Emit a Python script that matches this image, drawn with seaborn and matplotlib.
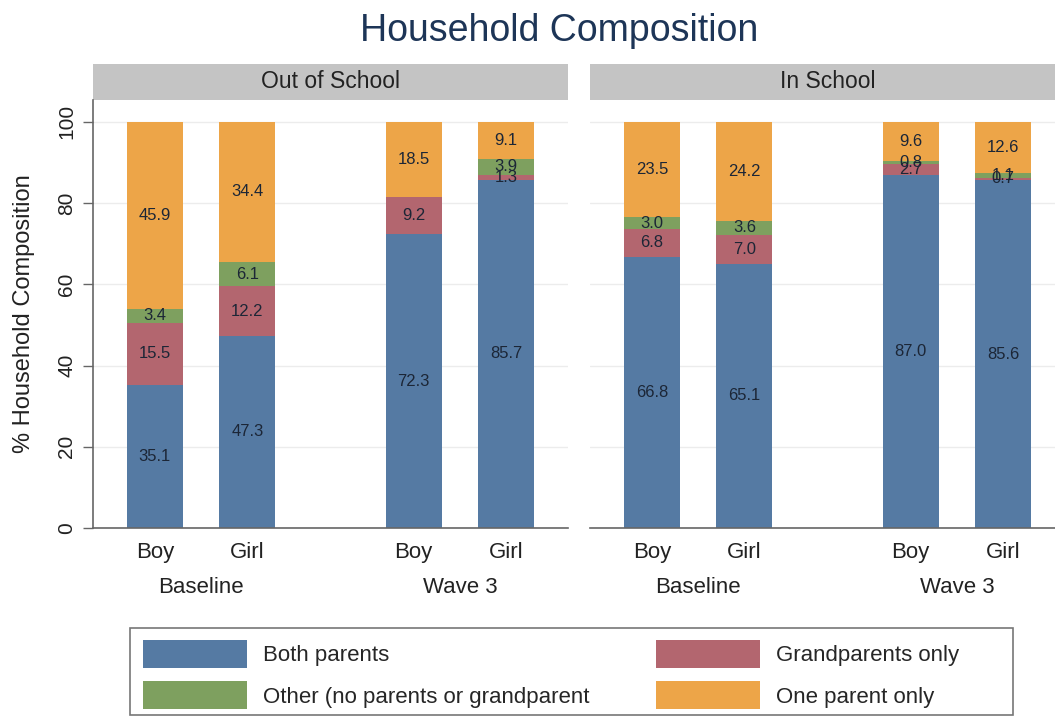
import numpy as np
import pandas as pd
import matplotlib.pyplot as plt
import matplotlib.patches as mpatches
import seaborn as sns

panels = ["Out of School", "In School"]
waves = ["Baseline", "Wave 3"]
sexes = ["Boy", "Girl"]
categories = ["Both parents", "Grandparents only",
              "Other (no parents or grandparent", "One parent only"]

# bars in each panel: Baseline Boy, Baseline Girl, Wave 3 Boy, Wave 3 Girl
both_out = [35.1, 47.3, 72.3, 85.7]
grand_out = [15.5, 12.2, 9.2, 1.3]
other_out = [3.4, 6.1, 0.0, 3.9]
one_out = [45.9, 34.4, 18.5, 9.1]

both_in = [66.8, 65.1, 87.0, 85.6]
grand_in = [6.8, 7.0, 2.7, 0.7]
other_in = [3.0, 3.6, 0.8, 1.1]
one_in = [23.5, 24.2, 9.6, 12.6]

colors = ["#557aa3", "#b3666f", "#7ea05f", "#eda548"]

values = {
    "Out of School": [both_out, grand_out, other_out, one_out],
    "In School": [both_in, grand_in, other_in, one_in],
}

group_gap = 2.8  # distance between Baseline and Wave 3 groups

rows = []
for panel in panels:
    for i in range(4):
        w, s = divmod(i, 2)
        bottom = 0.0
        for c, cat in enumerate(categories):
            v = values[panel][c][i]
            rows.append(dict(panel=panel, wave=waves[w], sex=sexes[s],
                             pos=w * group_gap + s, category=cat,
                             value=v, bottom=bottom, top=bottom + v))
            bottom += v
df = pd.DataFrame(rows)

sns.set_theme(style="white")
plt.rcParams["font.family"] = ["Liberation Sans", "DejaVu Sans"]

fig = plt.figure(figsize=(10.55, 7.19), dpi=100)
W, H = 1055, 719
ax_w = 475 / W
ax_b = 1 - 528 / H
ax_h = (528 - 100) / H
axes = [fig.add_axes([93 / W, ax_b, ax_w, ax_h]),
        fig.add_axes([590 / W, ax_b, ax_w, ax_h])]

for ax, panel in zip(axes, panels):
    sub = df[df.panel == panel]
    # overlay cumulative bars from the top layer down
    for cat, col in reversed(list(zip(categories, colors))):
        layer = sub[sub.category == cat]
        sns.barplot(data=layer, x="pos", y="top", native_scale=True, orient="x",
                    color=col, saturation=1, width=0.605, linewidth=0,
                    errorbar=None, ax=ax, zorder=2)
    for _, r in sub.iterrows():
        if r.value > 0:
            ax.text(r.pos, r.bottom + r.value / 2, f"{r.value:.1f}",
                    ha="center", va="center", fontsize=12, color="#1c2636", zorder=3)

    ax.set_xlim(-0.67, 4.47)
    ax.set_ylim(0, 105.4)
    ax.set_yticks([0, 20, 40, 60, 80, 100])
    ax.yaxis.grid(True, color="#ececec", linewidth=1)
    ax.set_axisbelow(True)
    ax.set_xticks([w * group_gap + s for w in range(2) for s in range(2)])
    ax.set_xticklabels(sexes * 2)
    ax.tick_params(axis="x", length=0, pad=10, labelsize=16, labelcolor="#222222")
    ax.set_xlabel("")
    ax.set_ylabel("")
    for side in ["top", "right"]:
        ax.spines[side].set_visible(False)
    ax.spines["bottom"].set_color("#666666")
    ax.spines["bottom"].set_linewidth(1.2)

    for w, wave in enumerate(waves):
        ax.text(w * group_gap + 0.5, -0.14, wave, transform=ax.get_xaxis_transform(),
                ha="center", va="center", fontsize=16, color="#222222")

    strip_h = 36 / (528 - 100)
    ax.add_patch(mpatches.Rectangle((0, 1), 1, strip_h, transform=ax.transAxes,
                                    facecolor="#c4c4c4", edgecolor="none", clip_on=False))
    ax.text(0.5, 1 + strip_h / 2, panel, transform=ax.transAxes, ha="center",
            va="center", fontsize=16.5, color="#222222")

left, right = axes
left.spines["left"].set_color("#666666")
left.spines["left"].set_linewidth(1.2)
left.tick_params(axis="y", length=7, width=1, color="#666666", direction="out",
                 pad=5, labelsize=15, labelcolor="#222222", left=True)
for lbl in left.get_yticklabels():
    lbl.set_rotation(90)
    lbl.set_va("center")
left.set_ylabel("% Household Composition", fontsize=17, color="#222222", labelpad=16)
right.spines["left"].set_visible(False)
right.tick_params(axis="y", left=False, labelleft=False)

fig.text(0.53, 1 - 31 / H, "Household Composition", ha="center", va="center",
         fontsize=27, color="#1d3557")

handles = [mpatches.Patch(facecolor=c, edgecolor="none") for c in colors]
order = [0, 2, 1, 3]
fig.legend([handles[i] for i in order], [categories[i] for i in order], ncol=2,
           loc="upper left", bbox_to_anchor=(143 / W, 1 - 640 / H), frameon=False,
           fontsize=16, handlelength=4.68, handleheight=1.56, handletextpad=0.72,
           columnspacing=2.97, labelspacing=0.6, borderpad=0, borderaxespad=0)
fig.patches.append(mpatches.Rectangle((130 / W, 1 - 715 / H), 883 / W, 87 / H,
                                      transform=fig.transFigure, facecolor="none",
                                      edgecolor="#777777", linewidth=1.2))

fig.savefig("out.png", dpi=100)
